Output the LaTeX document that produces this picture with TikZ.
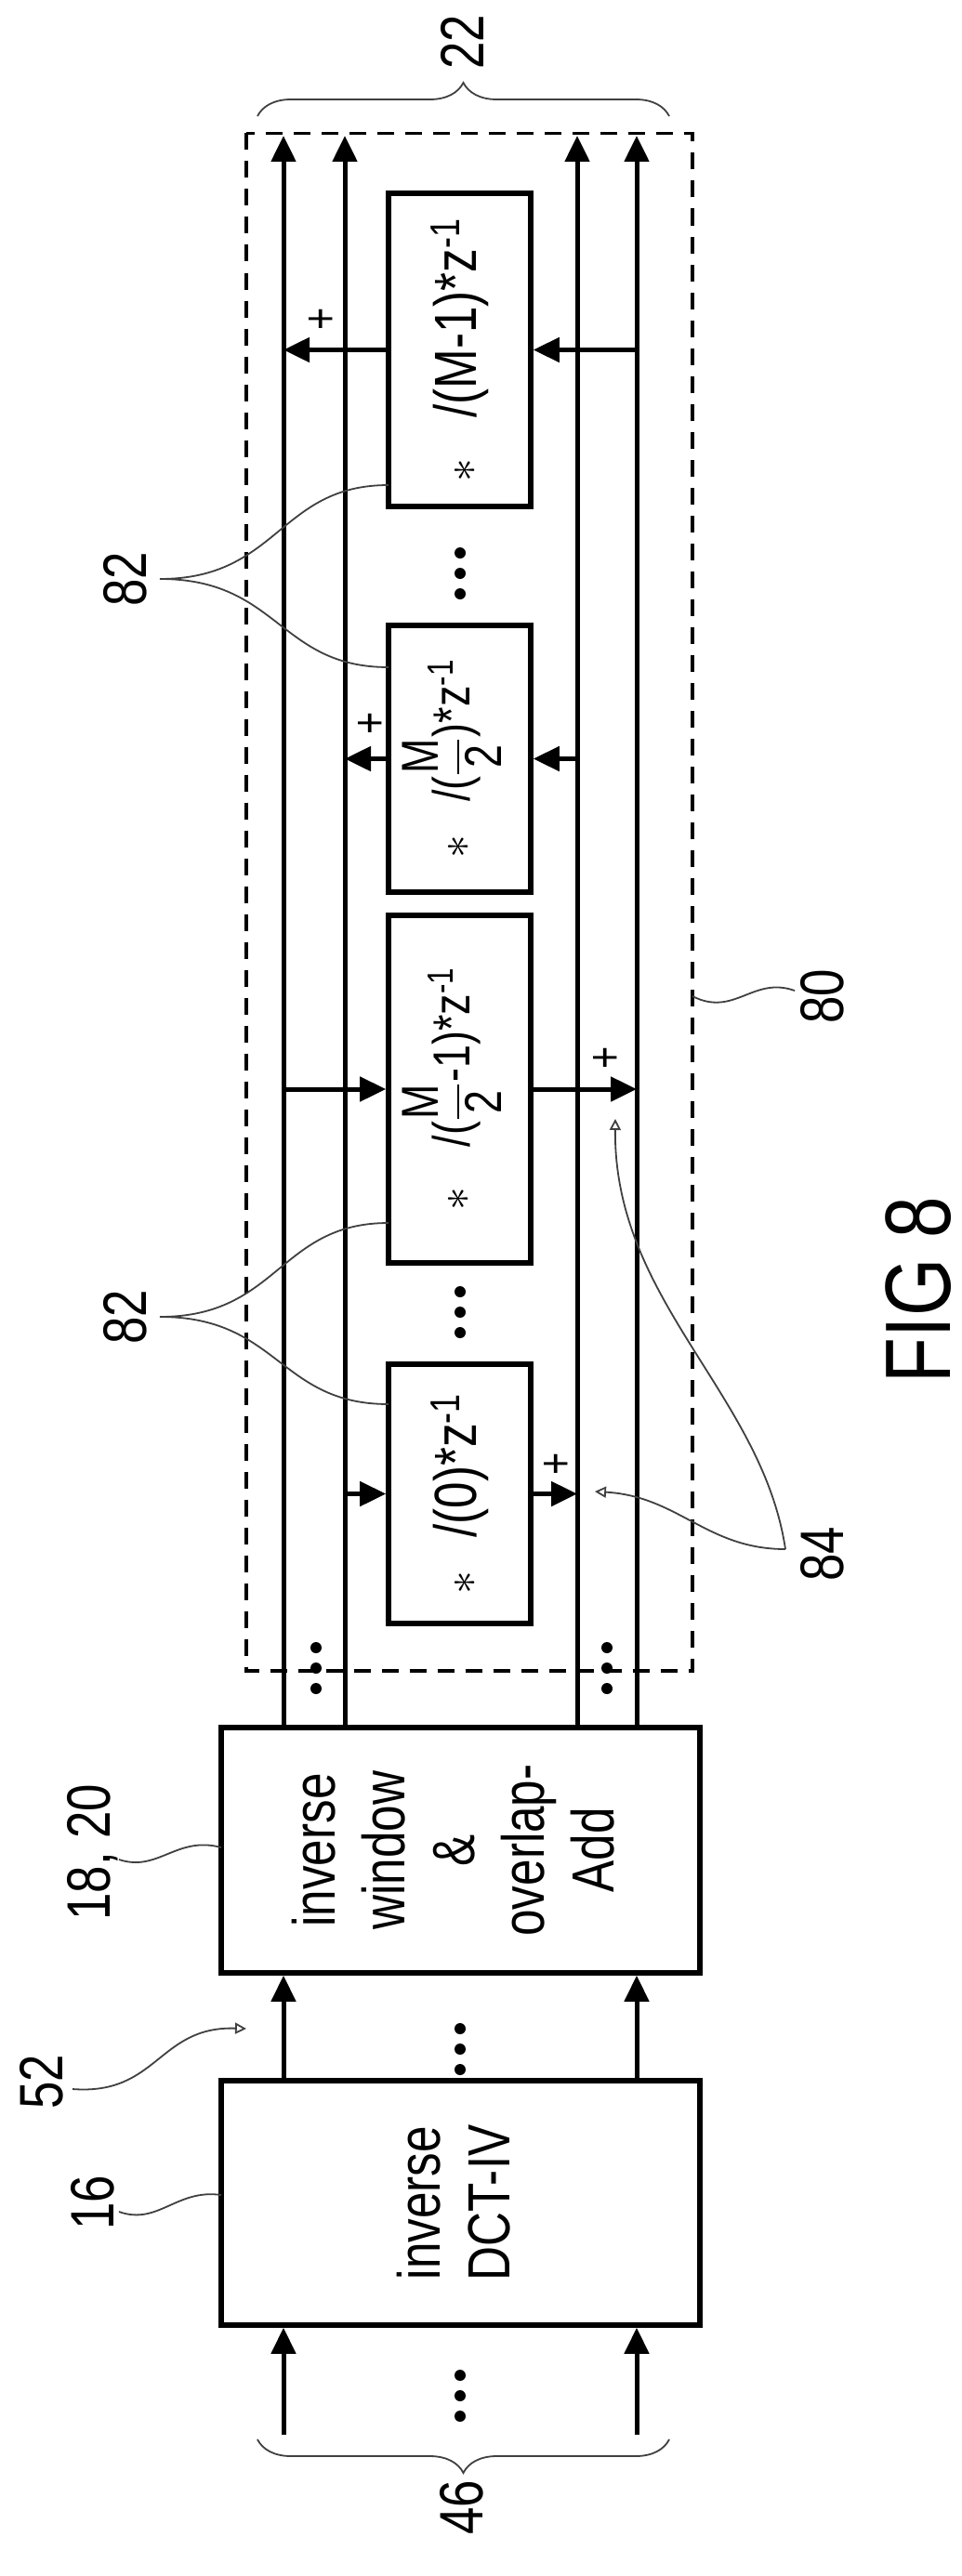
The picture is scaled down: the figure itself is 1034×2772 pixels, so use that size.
\documentclass[tikz,border=0pt]{standalone}
\usepackage{amsmath}
\usepackage{fontspec}
\setmainfont{Liberation Sans}[FakeStretch=0.8]
\usetikzlibrary{arrows.meta,decorations.pathreplacing}
\newcommand{\tridots}[2]{\foreach \dy in {-22,0,22} \fill (#1,#2+\dy) circle (3pt);}
\begin{document}
\begin{tikzpicture}[x=0.5pt,y=-0.5pt,
box/.style={draw, line width=2.8pt, inner sep=0pt, font=\fontsize{32}{37.5}\selectfont},
boxtext/.style={rotate=90, inner sep=0pt, font=\fontsize{28}{33}\selectfont},
sig/.style={line width=2.5pt, -{Triangle[length=14pt,width=13pt]}},
ref/.style={font=\fontsize{33}{38}\selectfont, rotate=90},
lead/.style={line width=0.9pt, black!75},
plus/.style={font=\fontsize{26}{30}\selectfont, rotate=90, inner sep=0pt},
]
\useasboundingbox (0,0) rectangle (1034,2772);
% blocks
\node[box, minimum width=257.5pt, minimum height=131.5pt] (dct) at (495.5,2370.5)
  {\rotatebox{90}{\begin{tabular}{c}inverse\\DCT-IV\end{tabular}}};
\node[box, minimum width=257.5pt, minimum height=132pt] (iwola) at (495.5,1991)
  {\rotatebox{90}{\begin{tabular}{c}inverse\\window\\\&\\overlap-\\Add\end{tabular}}};
\node[box, minimum width=76.5pt, minimum height=168.5pt] (mA) at (494.5,376.5)
  {\rotatebox{90}{$\ast$\hspace{22pt}/(M-1)*z\textsuperscript{-1}}};
\node[box, minimum width=76.5pt, minimum height=143.5pt] (mB) at (494.5,816.5) {};
\node[boxtext] (mBt) at ([xshift=-4pt]mB.center)
  {$\ast$\hspace{18pt}/($\dfrac{\mbox{M}}{\mbox{2}}$)*z\textsuperscript{-1}};
\node[box, minimum width=76.5pt, minimum height=187pt] (mC) at (494.5,1172) {};
\node[boxtext] (mCt) at ([xshift=-4pt]mC.center)
  {$\ast$\hspace{22pt}/($\dfrac{\mbox{M}}{\mbox{2}}$-1)*z\textsuperscript{-1}};
\node[box, minimum width=76.5pt, minimum height=139.5pt] (mD) at (494.5,1607.5)
  {\rotatebox{90}{$\ast$\hspace{18pt}/(0)*z\textsuperscript{-1}}};
% dashed frame
\draw[line width=1.8pt, dash pattern=on 9pt off 6pt] (265,143.5) rectangle (745,1798);
% outputs
\coordinate (o1) at (305,146);
\coordinate (o2) at (371,146);
\coordinate (o3) at (621,146);
\coordinate (o4) at (685,146);
\foreach \o in {o1,o2,o3,o4} \draw[sig] (iwola.north -| \o) -- (\o);
% inputs and inner links
\coordinate (i1) at (305,2620);
\coordinate (i2) at (685,2620);
\foreach \i in {i1,i2} {
  \draw[sig] (\i) -- (dct.south -| \i);
  \draw[sig] (dct.north -| \i) -- (iwola.south -| \i);
}
% taps
\draw[sig] (o4 |- mA.east) -- (mA.east);
\draw[sig] (mA.west) -- (o1 |- mA.west);
\draw[sig] (o3 |- mB.east) -- (mB.east);
\draw[sig] (mB.west) -- (o2 |- mB.west);
\draw[sig] (o1 |- mC.west) -- (mC.west);
\draw[sig] (mC.east) -- (o4 |- mC.east);
\draw[sig] (o2 |- mD.west) -- (mD.west);
\draw[sig] (mD.east) -- (o3 |- mD.east);
\node[plus] (pA) at (347,343) {+};
\node[plus] (pB) at (400,778) {+};
\node[plus] (pC) at (653,1138) {+};
\node[plus] (pD) at (600,1575) {+};
% dots
\tridots{495}{617}
\tridots{495}{1412}
\tridots{340}{1795}
\tridots{653}{1795}
\tridots{495}{2205}
\tridots{495}{2578}
% braces
\draw[lead, decorate, decoration={brace, amplitude=18pt}] (277,125) -- (720,125);
\node[ref] (n22) at (497,45) {22};
\draw[lead, decorate, decoration={brace, amplitude=18pt}] (720,2625) -- (277,2625);
\node[ref] (n46) at (497,2698) {46};
% reference signs
\node[ref] (n16) at (100,2370) {16};
\draw[lead] (128,2380) .. controls (170,2395) and (190,2355) .. (238,2362);
\node[ref] (n1820) at (100,1993) {18, 20};
\draw[lead] (128,2001) .. controls (170,2015) and (190,1975) .. (238,1988);
\node[ref] (n52) at (45,2240) {52};
\coordinate (t52) at (265,2183);
\draw[lead, -{Triangle[open,length=6pt,width=6pt]}] (78,2248) .. controls (170,2255) and (170,2180) .. (t52);
\node[ref] (n82a) at (135,623) {82};
\draw[lead] (172,623) .. controls (300,623) and (300,522) .. (418,522);
\draw[lead] (172,623) .. controls (300,623) and (300,718) .. (418,718);
\node[ref] (n82b) at (135,1417) {82};
\draw[lead] (172,1417) .. controls (300,1417) and (300,1316) .. (418,1316);
\draw[lead] (172,1417) .. controls (300,1417) and (300,1511) .. (418,1511);
\node[ref] (n80) at (885,1072) {80};
\draw[lead] (745,1072) .. controls (790,1095) and (810,1050) .. (855,1066);
\node[ref] (n84) at (885,1672) {84};
\coordinate (t84a) at (640,1605);
\coordinate (t84b) at (662,1204);
\draw[lead, -{Triangle[open,length=6pt,width=6pt]}] (845,1667) .. controls (760,1667) and (730,1610) .. (t84a);
\draw[lead, -{Triangle[open,length=6pt,width=6pt]}] (845,1667) .. controls (820,1500) and (660,1400) .. (t84b);
\node[font=\fontsize{50}{55}\selectfont, rotate=90] (fig) at (988,1388) {FIG 8};
\end{tikzpicture}
\end{document}
